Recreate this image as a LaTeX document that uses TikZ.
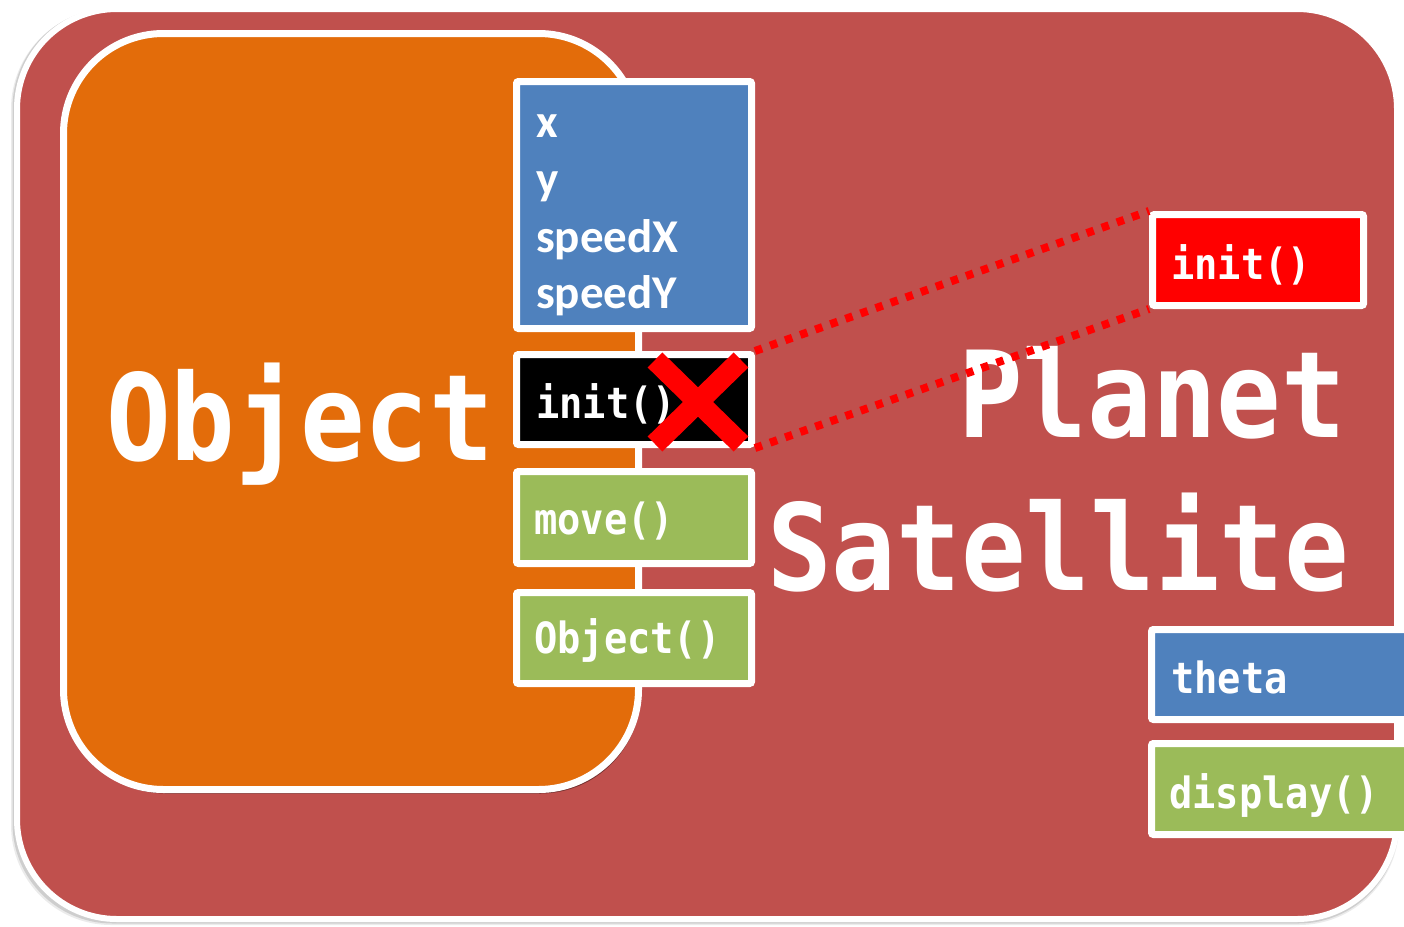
\documentclass[tikz,border=0pt]{standalone}
\usepackage{fontspec}
\usetikzlibrary{shadows}
\newfontfamily\bigcodefont[FakeStretch=0.895]{DejaVu Sans Mono}
\newfontfamily\smallcodefont[FakeStretch=0.9]{DejaVu Sans Mono}
\newfontfamily\attrfamily{Carlito}
\definecolor{outerred}{HTML}{C0504D}
\definecolor{objorange}{HTML}{E36C0A}
\definecolor{attrblue}{HTML}{4F81BD}
\definecolor{methgreen}{HTML}{9BBB59}
\definecolor{hotred}{HTML}{FF0000}
\tikzset{
  membox/.style={draw=white, line width=7pt, rounded corners=2pt, inner sep=0pt,
    outer sep=3.5pt, anchor=north west,
    drop shadow={shadow xshift=2pt, shadow yshift=-3pt, opacity=0.35, fill=black}},
  codetext/.style={font=\smallcodefont\bfseries\fontsize{43}{43}\selectfont, text=white,
    inner sep=0pt, anchor=base west},
  attrtext/.style={font=\attrfamily\bfseries\fontsize{47}{47}\selectfont, text=white,
    inner sep=0pt, anchor=base west},
  bigtext/.style={font=\bigcodefont\bfseries\fontsize{120}{120}\selectfont, text=white,
    inner sep=0pt, anchor=base west},
  dotline/.style={draw=hotred, line width=8pt, dash pattern=on 7.5pt off 8.5pt},
  crossbar/.style={draw=hotred, line width=21pt},
  frameshadow/.style={fill=black, rounded corners=100pt}
}
\begin{document}
\begin{tikzpicture}[x=1pt,y=-1pt]
\useasboundingbox (0,0) rectangle (1404,926);
\clip (0,0) rectangle (1404,926);
% soft shadow of the outer frame
\fill[frameshadow, opacity=0.08] (11,9) rectangle (1399,925);
\fill[frameshadow, opacity=0.12] (12.5,8) rectangle (1398.5,923.5);
% outer class frame
\node[draw=white, fill=outerred, line width=6pt, rounded corners=100pt, inner sep=0pt,
  outer sep=3pt, anchor=north west, minimum width=1380pt, minimum height=910pt]
  (outer) at (14,6) {};
% Object class
\node[draw=white, fill=objorange, line width=7pt, rounded corners=100pt, inner sep=0pt,
  outer sep=3.5pt, anchor=north west, minimum width=575pt, minimum height=756pt,
  drop shadow={shadow xshift=2pt, shadow yshift=-4pt, opacity=0.4, fill=black}]
  (objclass) at (60,30) {};
\node[bigtext] (objname) at (106,460) {Object};
% member boxes of Object
\node[membox, fill=attrblue, minimum width=235pt, minimum height=247pt] (attrs) at (513,78) {};
\node[membox, fill=black, minimum width=235pt, minimum height=90pt] (initbox) at (513,351) {};
\node[membox, fill=methgreen, minimum width=235pt, minimum height=92pt] (movebox) at (513,468) {};
\node[membox, fill=methgreen, minimum width=235pt, minimum height=91pt] (ctorbox) at (513,589) {};
\node[attrtext] (ax) at (536,137) {x};
\node[attrtext] (ay) at (536,194) {y};
\node[attrtext] (asx) at (536,252) {speedX};
\node[attrtext] (asy) at (536,308) {speedY};
\node[codetext] (initt) at (536,418) {init()};
\node[codetext] (movet) at (534,534) {move()};
\node[codetext] (ctort) at (534,653) {Object()};
% Planet / Satellite members
\node[membox, fill=hotred, minimum width=211pt, minimum height=91pt] (rinit) at (1149,211) {};
\node[membox, fill=attrblue, minimum width=275pt, minimum height=90pt] (thetabox) at (1148,626) {};
\node[membox, fill=methgreen, minimum width=275pt, minimum height=91pt] (dispbox) at (1148,740) {};
\node[codetext] (rinitt) at (1171,279) {init()};
\node[codetext] (thetat) at (1171,693) {theta};
\node[codetext] (dispt) at (1169,808) {display()};
\node[bigtext] (planet) at (958,437) {Planet};
\node[bigtext] (satellite) at (767,590) {Satellite};
% override lines
\draw[dotline] (initbox.north east) -- (rinit.north west);
\draw[dotline] (initbox.south east) -- (rinit.south west);
% cross
\draw[crossbar] (655,360) -- (741,444);
\draw[crossbar] (741,360) -- (655,444);
\end{tikzpicture}
\end{document}
